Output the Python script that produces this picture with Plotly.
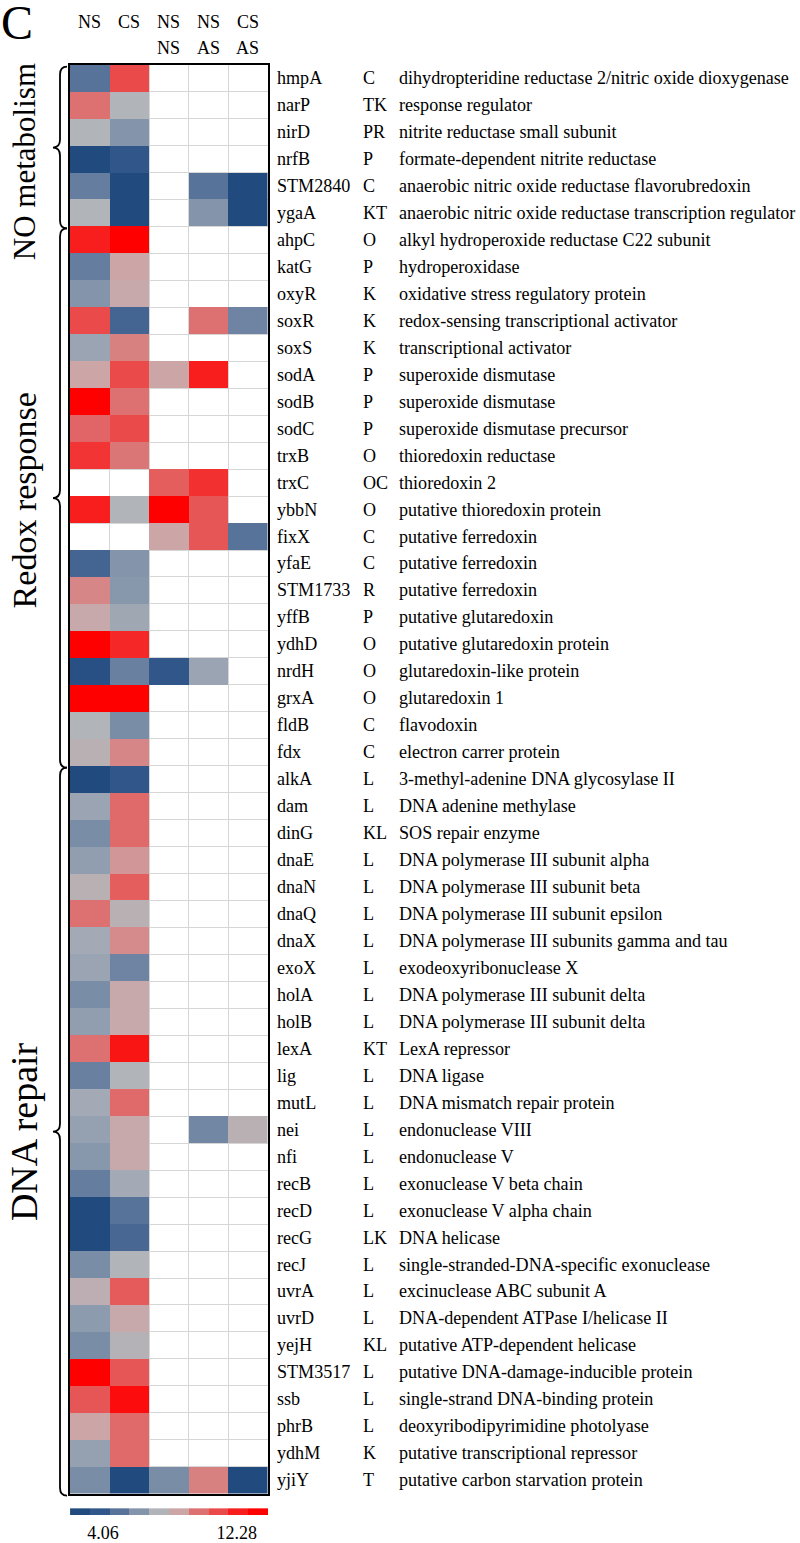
import plotly.graph_objects as go

W, H = 800, 1543
FONT = "Liberation Serif, Times New Roman, serif"

# ---------------- data ----------------
genes = ["hmpA", "narP", "nirD", "nrfB", "STM2840", "ygaA",
         "ahpC", "katG", "oxyR", "soxR", "soxS", "sodA", "sodB", "sodC", "trxB", "trxC",
         "ybbN", "fixX", "yfaE", "STM1733", "yffB", "ydhD", "nrdH", "grxA", "fldB", "fdx",
         "alkA", "dam", "dinG", "dnaE", "dnaN", "dnaQ", "dnaX", "exoX", "holA", "holB",
         "lexA", "lig", "mutL", "nei", "nfi", "recB", "recD", "recG", "recJ", "uvrA",
         "uvrD", "yejH", "STM3517", "ssb", "phrB", "ydhM", "yjiY"]

cog = ["C", "TK", "PR", "P", "C", "KT",
       "O", "P", "K", "K", "K", "P", "P", "P", "O", "OC",
       "O", "C", "C", "R", "P", "O", "O", "O", "C", "C",
       "L", "L", "KL", "L", "L", "L", "L", "L", "L", "L",
       "KT", "L", "L", "L", "L", "L", "L", "LK", "L", "L",
       "L", "KL", "L", "L", "L", "K", "T"]

descriptions = [
    "dihydropteridine reductase 2/nitric oxide dioxygenase",
    "response regulator",
    "nitrite reductase small subunit",
    "formate-dependent nitrite reductase",
    "anaerobic nitric oxide reductase flavorubredoxin",
    "anaerobic nitric oxide reductase transcription regulator",
    "alkyl hydroperoxide reductase C22 subunit",
    "hydroperoxidase",
    "oxidative stress regulatory protein",
    "redox-sensing transcriptional activator",
    "transcriptional activator",
    "superoxide dismutase",
    "superoxide dismutase",
    "superoxide dismutase precursor",
    "thioredoxin reductase",
    "thioredoxin 2",
    "putative thioredoxin protein",
    "putative ferredoxin",
    "putative ferredoxin",
    "putative ferredoxin",
    "putative glutaredoxin",
    "putative glutaredoxin protein",
    "glutaredoxin-like protein",
    "glutaredoxin 1",
    "flavodoxin",
    "electron carrer protein",
    "3-methyl-adenine DNA glycosylase II",
    "DNA adenine methylase",
    "SOS repair enzyme",
    "DNA polymerase III subunit alpha",
    "DNA polymerase III subunit beta",
    "DNA polymerase III subunit epsilon",
    "DNA polymerase III subunits gamma and tau",
    "exodeoxyribonuclease X",
    "DNA polymerase III subunit delta",
    "DNA polymerase III subunit delta",
    "LexA repressor",
    "DNA ligase",
    "DNA mismatch repair protein",
    "endonuclease VIII",
    "endonuclease V",
    "exonuclease V beta chain",
    "exonuclease V alpha chain",
    "DNA helicase",
    "single-stranded-DNA-specific exonuclease",
    "excinuclease ABC subunit A",
    "DNA-dependent ATPase I/helicase II",
    "putative ATP-dependent helicase",
    "putative DNA-damage-inducible protein",
    "single-strand DNA-binding protein",
    "deoxyribodipyrimidine photolyase",
    "putative transcriptional repressor",
    "putative carbon starvation protein",
]

header_top = ["NS", "CS", "NS", "NS", "CS"]
header_bottom = ["", "", "NS", "AS", "AS"]

N = None
col_ns = [5.08, 9.94, 7.51, 2.65, 5.44, 7.51,
          12.37, 5.44, 6.29, 11.15, 6.90, 8.72, 13.58, 10.30, 11.76, N,
          12.37, N, 4.47, 9.45, 8.48, 13.58, 3.26, 13.58, 7.51, 7.87,
          2.65, 6.90, 6.05, 6.66, 7.87, 9.94, 7.14, 6.90, 6.05, 6.66,
          9.94, 5.56, 7.14, 6.78, 6.41, 5.44, 2.65, 2.65, 6.05, 7.99,
          6.54, 6.05, 13.58, 10.79, 8.72, 6.78, 6.05]
col_cs = [11.15, 7.51, 6.29, 3.86, 2.65, 2.65,
          13.58, 8.72, 8.48, 4.47, 9.57, 11.15, 9.94, 11.15, 9.81, N,
          7.51, N, 6.29, 6.41, 7.02, 12.12, 5.56, 13.58, 6.05, 9.45,
          3.86, 10.18, 10.18, 9.08, 10.54, 7.87, 9.33, 5.69, 8.48, 8.48,
          12.73, 7.51, 10.18, 8.48, 8.48, 7.14, 5.08, 4.59, 7.51, 10.66,
          8.48, 7.63, 10.79, 13.10, 10.18, 10.18, 2.65]
col_ns_ns = [N, N, N, N, N, N,
             N, N, N, N, N, 8.72, N, N, N, 10.54,
             13.58, 8.72, N, N, N, N, 3.86, N, N, N,
             N, N, N, N, N, N, N, N, N, N,
             N, N, N, N, N, N, N, N, N, N,
             N, N, N, N, N, N, 6.05]
col_ns_as = [N, N, N, N, 5.08, 6.29,
             N, N, N, 9.94, N, 12.37, N, N, N, 11.88,
             10.79, 10.79, N, N, N, N, 6.90, N, N, N,
             N, N, N, N, N, N, N, N, N, N,
             N, N, N, 5.81, N, N, N, N, N, N,
             N, N, N, N, N, N, 9.57]
col_cs_as = [N, N, N, N, 2.65, 2.65,
             N, N, N, 5.69, N, N, N, N, N, N,
             N, 5.08, N, N, N, N, N, N, N, N,
             N, N, N, N, N, N, N, N, N, N,
             N, N, N, 7.87, N, N, N, N, N, N,
             N, N, N, N, N, N, 2.65]

groups = ["NO metabolism", "Redox response", "DNA repair"]
group_first_row = [0, 6, 26]
group_last_row = [5, 25, 52]

zmin, zmax = 2.04, 14.19
cbar_levels = [2.65, 3.86, 5.08, 6.29, 7.51, 8.72, 9.94, 11.15, 12.37, 13.58]
cbar_ticks = [4.06, 12.28]

palette = ["#214a7f", "#30568a", "#587399", "#8394ab", "#b1b4b9",
           "#cca5a7", "#dd7171", "#eb4a4b", "#f81e1e", "#ff0000"]

# ---------------- build ----------------
colorscale = [[0.0, palette[0]]] + [[(k + 0.5) / 10, c] for k, c in enumerate(palette)] + [[1.0, palette[-1]]]

columns = [col_ns, col_cs, col_ns_ns, col_ns_as, col_cs_as]
nrow = len(genes)
z = [[columns[c][r] for c in range(5)] for r in range(nrow)]

# pixel layout of heatmap
hx0, hx1 = 70, 267.5
hy0, hy1 = 65, 1501.5

def px(x):
    return x / W

def py(y):
    return 1 - y / H

fig = go.Figure()
fig.add_trace(go.Heatmap(
    z=z, x=list(range(5)), y=list(range(nrow)),
    colorscale=colorscale, zmin=zmin, zmax=zmax, showscale=False,
    hoverinfo="skip", xaxis="x", yaxis="y",
))

# colour key as its own small heatmap
fig.add_trace(go.Heatmap(
    z=[cbar_levels], x=cbar_levels, y=[0],
    colorscale=colorscale, zmin=zmin, zmax=zmax, showscale=False,
    hoverinfo="skip", xaxis="x3", yaxis="y3",
))

# invisible pixel overlay axes
fig.add_trace(go.Scatter(x=[0], y=[0], mode="markers", marker=dict(opacity=0),
                         hoverinfo="skip", showlegend=False, xaxis="x2", yaxis="y2"))

grid_col = "#d6d6d6"
fig.update_layout(
    width=W, height=H,
    margin=dict(l=0, r=0, t=0, b=0),
    paper_bgcolor="white", plot_bgcolor="rgba(0,0,0,0)",
    font=dict(family=FONT, color="black", size=18),
    showlegend=False,
    xaxis=dict(domain=[px(hx0), px(hx1)], range=[-0.5, 4.5],
               tickvals=[0.5, 1.5, 2.5, 3.5], showticklabels=False, ticks="",
               showgrid=True, gridcolor=grid_col, gridwidth=1, zeroline=False,
               showline=True, mirror=True, linecolor="black", linewidth=1.5,
               anchor="y", fixedrange=True),
    yaxis=dict(domain=[py(hy1), py(hy0)], range=[nrow - 0.5, -0.5],
               tickvals=[i + 0.5 for i in range(nrow - 1)], showticklabels=False, ticks="",
               showgrid=True, gridcolor=grid_col, gridwidth=1, zeroline=False,
               showline=True, mirror=True, linecolor="black", linewidth=1.5,
               anchor="x", fixedrange=True),
    xaxis2=dict(domain=[0, 1], range=[0, W], visible=False, anchor="y2", fixedrange=True),
    yaxis2=dict(domain=[0, 1], range=[H, 0], visible=False, anchor="x2", fixedrange=True),
    xaxis3=dict(domain=[px(70), px(268)], range=[zmin, zmax],
                tickvals=cbar_ticks, ticktext=[f"{t:.2f}" for t in cbar_ticks],
                ticks="", showgrid=False, zeroline=False, showline=False,
                ticklabelstandoff=5,
                tickfont=dict(size=18, family=FONT, color="black"),
                anchor="y3", fixedrange=True),
    yaxis3=dict(domain=[py(1523), py(1516)], range=[-0.5, 0.5], visible=False,
                anchor="x3", fixedrange=True),
)

ann = []
# panel letter
ann.append(dict(text="C", x=17, y=23, xref="x2", yref="y2", showarrow=False,
                font=dict(size=48, family=FONT, color="black")))
# column headers
for c in range(5):
    ann.append(dict(text=header_top[c], x=c, y=22, xref="x", yref="y2",
                    showarrow=False, font=dict(size=18)))
    if header_bottom[c]:
        ann.append(dict(text=header_bottom[c], x=c, y=48, xref="x", yref="y2",
                        showarrow=False, font=dict(size=18)))
# row labels
for r in range(nrow):
    ann.append(dict(text=genes[r], x=275, y=r, xref="x2", yref="y", xanchor="left",
                    showarrow=False, font=dict(size=18.1)))
    ann.append(dict(text=cog[r], x=361, y=r, xref="x2", yref="y", xanchor="left",
                    showarrow=False, font=dict(size=18.1)))
    ann.append(dict(text=descriptions[r], x=397, y=r, xref="x2", yref="y", xanchor="left",
                    showarrow=False, font=dict(size=18.1)))

# group braces and labels
shapes = []
row_h = (hy1 - hy0) / nrow
label_centers = [163, 503, 1138]
label_sizes = [31, 34, 38]
for g in range(3):
    y0 = hy0 + group_first_row[g] * row_h + 2
    y1 = hy0 + (group_last_row[g] + 1) * row_h + 2
    ym = (y0 + y1) / 2
    xe, xl, xt = 67, 60, 53
    path = (f"M {xe},{y0} Q {xl},{y0} {xl},{y0+8} L {xl},{ym-8} "
            f"Q {xl},{ym} {xt},{ym} Q {xl},{ym} {xl},{ym+8} "
            f"L {xl},{y1-8} Q {xl},{y1} {xe},{y1}")
    shapes.append(dict(type="path", path=path, xref="x2", yref="y2",
                       line=dict(color="black", width=1.8), layer="above"))
    ann.append(dict(text=groups[g], x=24, y=label_centers[g], xref="x2", yref="y2",
                    textangle=-90, showarrow=False, font=dict(size=label_sizes[g])))

fig.update_layout(annotations=ann, shapes=shapes)

fig.write_html("out.html", post_script="document.body.style.margin='0';",
               config={"displayModeBar": False})
